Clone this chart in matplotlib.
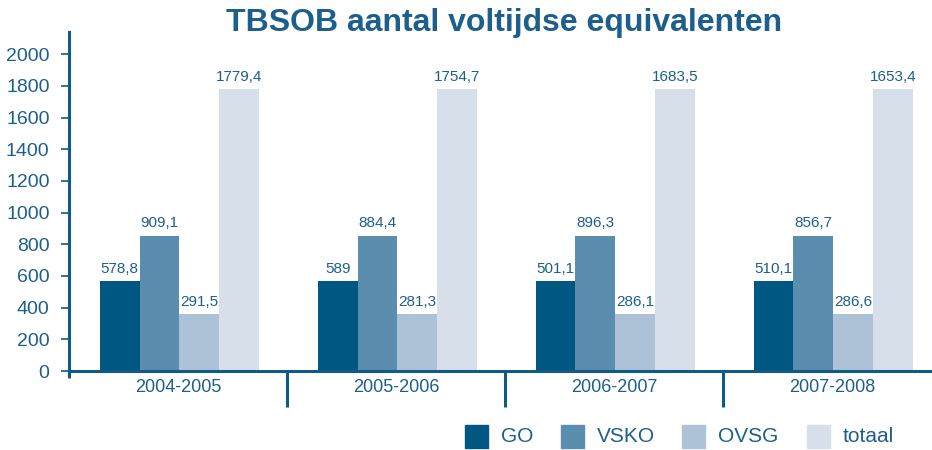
import numpy as np
import matplotlib
matplotlib.use("Agg")
import matplotlib.pyplot as plt
import matplotlib.transforms as mtransforms
from matplotlib.patches import Rectangle

# ── DATA ──────────────────────────────────────────────────────────────────────
years  = ["2004-2005", "2005-2006", "2006-2007", "2007-2008"]
series = ["GO", "VSKO", "OVSG", "totaal"]

# bar heights as drawn in the reference (identical per series in every year)
go_h     = [566, 566, 566, 566]
vsko_h   = [855, 855, 855, 855]
ovsg_h   = [358, 358, 358, 358]
totaal_h = [1778, 1778, 1778, 1778]

# printed value labels
go_lbl     = ["578,8", "589", "501,1", "510,1"]
vsko_lbl   = ["909,1", "884,4", "896,3", "856,7"]
ovsg_lbl   = ["291,5", "281,3", "286,1", "286,6"]
totaal_lbl = ["1779,4", "1754,7", "1683,5", "1653,4"]

yticks = [0, 200, 400, 600, 800, 1000, 1200, 1400, 1600, 1800, 2000]

# ── STYLE ─────────────────────────────────────────────────────────────────────
colors  = ["#005782", "#5b8daf", "#adc2d7", "#d7e0ea"]
c_axis  = "#0f5a86"
c_text  = "#1d5f8c"
font    = "Liberation Sans"

# ── FIGURE ────────────────────────────────────────────────────────────────────
fig = plt.figure(figsize=(9.32, 4.5), dpi=100)
ax = fig.add_axes([69 / 932, 1 - 371 / 450, 1 - 69 / 932, (371 - 32) / 450])

x = np.arange(len(years))
w = 0.183
heights = [go_h, vsko_h, ovsg_h, totaal_h]
labels  = [go_lbl, vsko_lbl, ovsg_lbl, totaal_lbl]
for k, (h, lb) in enumerate(zip(heights, labels)):
    xs = x + (k - 1.5) * w + 0.007
    ax.bar(xs, h, width=w, color=colors[k], linewidth=0, zorder=2)
    for xi, hi, t in zip(xs, h, lb):
        ax.text(xi, hi + 35, t, ha="center", va="bottom",
                fontsize=11, color=c_text, family=font)

ax.set_xlim(-0.5, 3.46)
ax.set_ylim(0, 2140)
ax.set_yticks(yticks)
ax.set_yticklabels([str(v) for v in yticks], family=font, fontsize=14, color=c_text)
ax.set_xticks([])
ax.tick_params(axis="y", length=6, width=1.2, color=c_axis, pad=8)

for s in ["top", "right"]:
    ax.spines[s].set_visible(False)
ax.spines["left"].set_color(c_axis)
ax.spines["left"].set_linewidth(2.2)
ax.spines["bottom"].set_color(c_axis)
ax.spines["bottom"].set_linewidth(2.2)

# group separators hanging below the axis
trans = mtransforms.blended_transform_factory(ax.transData, ax.transAxes)
ax.plot([-0.5, -0.5], [0, -0.02], transform=trans, color=c_axis, lw=2.2,
        clip_on=False, solid_capstyle="butt")
for sx in [0.5, 1.5, 2.5]:
    ax.plot([sx, sx], [0, -0.105], transform=trans, color=c_axis, lw=2.2,
            clip_on=False, solid_capstyle="butt")
for xi, yr in zip(x, years):
    ax.text(xi, -0.05, yr, transform=trans, ha="center", va="center",
            fontsize=13, color=c_text, family=font)

fig.text(504 / 932, 1 - 23 / 450, "TBSOB aantal voltijdse equivalenten",
         ha="center", va="center", fontsize=23, fontweight="bold",
         color=c_text, family=font)

# legend along the bottom
leg_x = [465, 561, 682, 807]
for k, name in enumerate(series):
    fig.patches.append(Rectangle((leg_x[k] / 932, 1 - 448 / 450), 23 / 932, 23 / 450,
                                 transform=fig.transFigure, color=colors[k]))
    fig.text((leg_x[k] + 36) / 932, 1 - 437 / 450, name, ha="left", va="center",
             fontsize=15, color=c_text, family=font)

fig.savefig("out.png", dpi=100)
